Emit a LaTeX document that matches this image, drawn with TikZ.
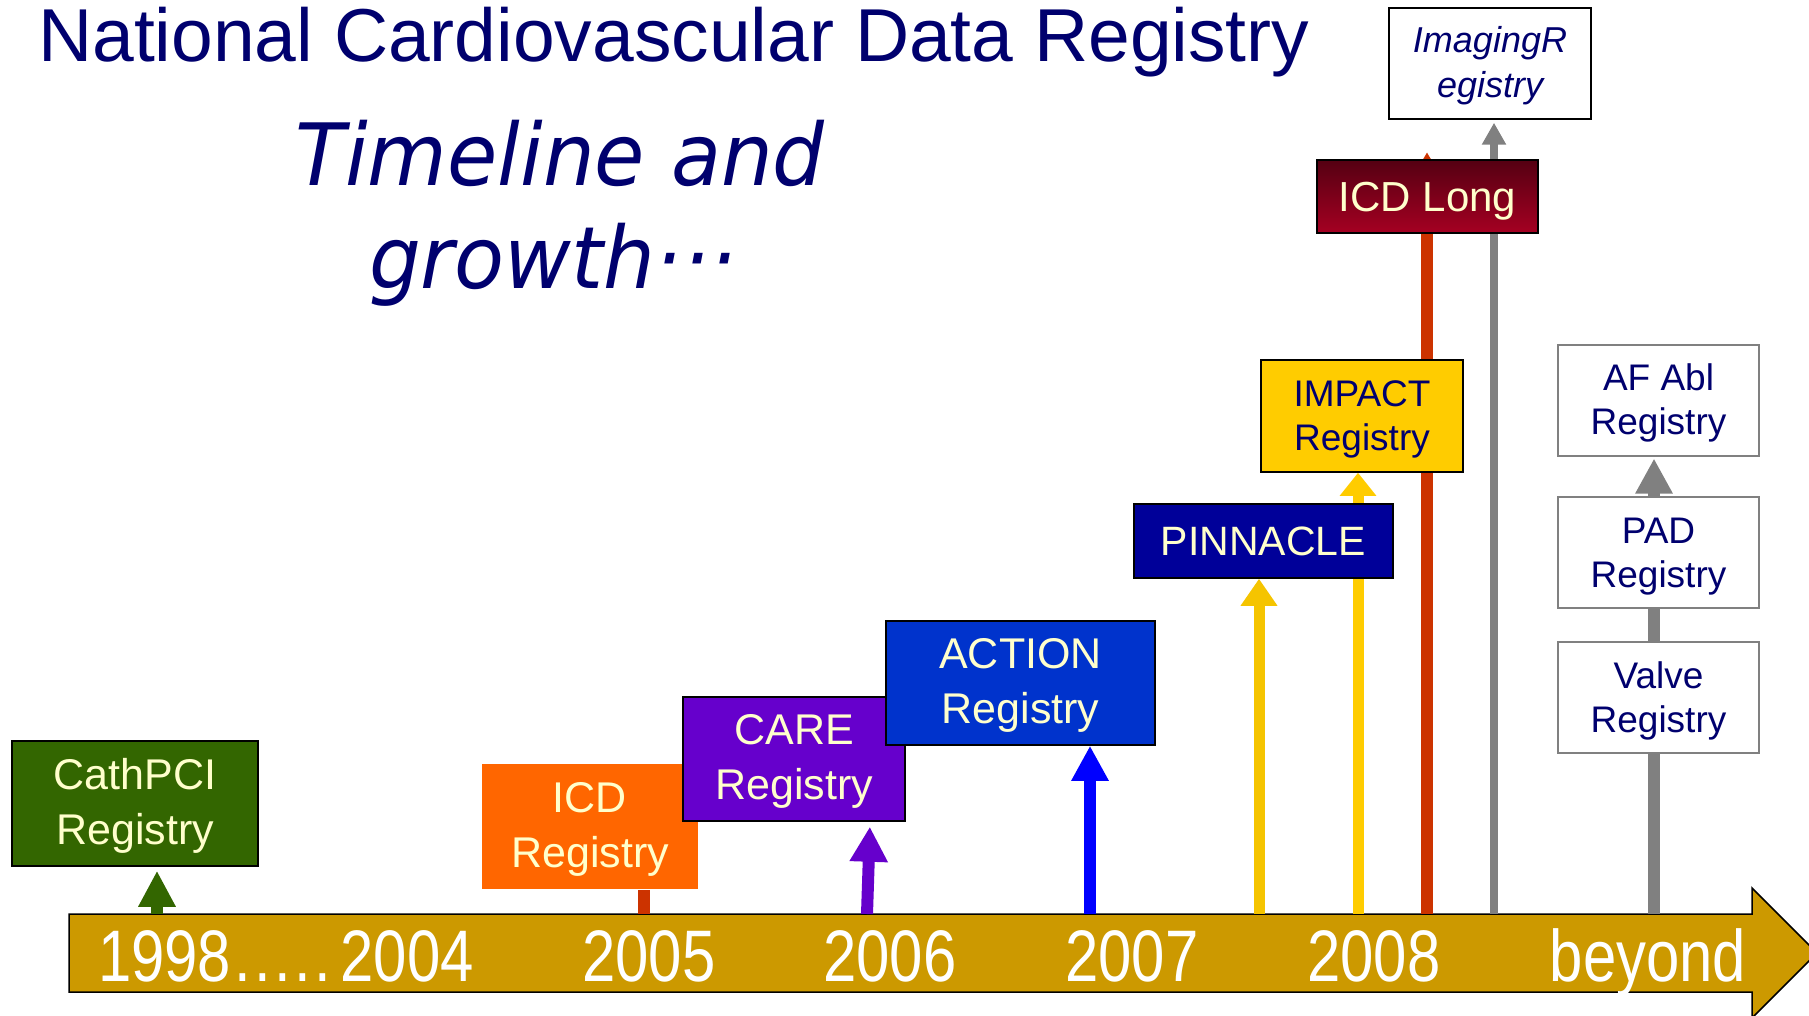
\documentclass[tikz,border=0pt]{standalone}
\usepackage{fontspec}
\setmainfont{Liberation Sans}
\newfontfamily\verd{DejaVu Sans}
\usetikzlibrary{arrows.meta}
\definecolor{navy}{HTML}{00006E}
\definecolor{lyel}{HTML}{FFFFCC}
\definecolor{gold}{HTML}{CC9900}
\definecolor{cgreen}{HTML}{336600}
\definecolor{corange}{HTML}{FF6600}
\definecolor{cpurple}{HTML}{6600CC}
\definecolor{cblue}{HTML}{0033CC}
\definecolor{cnavy}{HTML}{000099}
\definecolor{cyellow}{HTML}{FFCC00}
\definecolor{cyellowb}{HTML}{F5C400}
\definecolor{cred}{HTML}{CC3300}
\definecolor{cgray}{HTML}{808080}
\definecolor{maroonA}{HTML}{550012}
\definecolor{maroonB}{HTML}{A50022}
\pgfdeclarelayer{bg}
\pgfsetlayers{bg,main}
\newcommand\fs[2]{\fontsize{#1}{#2}\selectfont}
\newcommand\twol[2][0pt]{\raisebox{-#1}[\height][\depth]{\begin{tabular}{@{}c@{}}#2\end{tabular}}}
\begin{document}
\begin{tikzpicture}[x=1pt,y=-1pt,
  regbox/.style={draw=black,line width=1.5pt,inner sep=0pt,text=lyel,font={\fs{43}{55}}},
  wbox/.style={draw=cgray,line width=2pt,fill=white,inner sep=0pt,text=navy,font={\fs{37}{44}},minimum width=201pt,minimum height=111pt},
  year/.style={anchor=base,inner sep=0pt,text=white,font={\fs{73}{80}}},
  stem/.style={line width=12pt},
]
\useasboundingbox (0,0) rectangle (1809,1016);

% titles
\node[anchor=base west,inner sep=0pt,text=navy,font={\fs{75}{80}}] (title) at (38,62) {National Cardiovascular Data Registry};
\node[anchor=base,inner sep=0pt,text=navy,font={\verd\itshape\fs{86}{100}}] (sub1) at (560,186) {\scalebox{0.95}[1]{Timeline and}};
\node[anchor=base,inner sep=0pt,text=navy,font={\verd\itshape\fs{86}{100}}] (sub2) at (553,288) {\scalebox{0.95}[1]{growth·\kern2pt·\kern2pt·}};

% registry boxes
\node[regbox,fill=cgreen,minimum width=246pt,minimum height=125pt] (cath) at (135,803.5) {\twol[2pt]{CathPCI\\Registry}};
\node[regbox,draw=none,fill=corange,minimum width=216pt,minimum height=125pt] (icd) at (590,826.5) {\twol[2pt]{ICD\\Registry}};
\node[regbox,fill=cpurple,minimum width=222pt,minimum height=124pt] (care) at (794,759) {\twol[1.5pt]{CARE\\Registry}};
\node[regbox,fill=cblue,minimum width=269pt,minimum height=124pt] (action) at (1020.5,683) {\twol[1.5pt]{ACTION\\Registry}};
\node[regbox,fill=cnavy,minimum width=259pt,minimum height=74pt,font={\fs{41}{49}},text depth=0pt] (pinn) at (1263.5,541) {PINNACLE};
\node[regbox,fill=cyellow,text=navy,minimum width=202pt,minimum height=112pt,font={\fs{37}{44}}] (impact) at (1362,416) {\twol[4pt]{IMPACT\\Registry}};
\node[regbox,top color=maroonA,bottom color=maroonB,minimum width=221pt,minimum height=73pt,font={\fs{42}{50}},text depth=0pt] (icdlong) at (1427.5,196.5) {ICD Long};
\node[regbox,fill=white,text=navy,minimum width=202pt,minimum height=111pt,font={\fs{36}{45}\itshape}] (img) at (1490,63.5) {\twol[3pt]{ImagingR\\egistry}};
\node[wbox] (afabl) at (1658.5,400) {\twol[4pt]{AF Abl\\Registry}};
\node[wbox] (pad) at (1658.5,552.5) {\twol[4pt]{PAD\\Registry}};
\node[wbox] (valve) at (1658.5,697.5) {\twol[4pt]{Valve\\Registry}};

\begin{pgfonlayer}{bg}
  % timeline arrow
  \draw[fill=gold,draw=black,line width=1.5pt] (69,914) -- (1752,914) -- (1752,888) -- (1817,953) -- (1752,1018) -- (1752,992) -- (69,992) -- cycle;
  \coordinate (t1) at (157,914);
  \coordinate (t2) at (644,914);
  \coordinate (t3) at (867,914);
  \coordinate (t4) at (1090,914);
  \coordinate (t5) at (1259,914);
  \coordinate (t6) at (1358,914);
  \coordinate (t7) at (1427,914);
  \coordinate (t8) at (1494,914);
  \coordinate (t9) at (1654,914);
  \draw[cgreen,line width=11.5pt,-{Triangle[width=35pt,length=36pt]},shorten >=4pt] (t1) -- (t1 |- cath.south);
  \draw[cred,stem] (t2) -- (t2 |- icd.south);
  \draw[cpurple,stem,-{Triangle[width=36pt,length=35pt]},shorten >=5pt] (t3) -- ([xshift=3pt]t3 |- care.south);
  \draw[blue,stem,-{Triangle[width=35pt,length=35pt]}] (t4) -- (t4 |- action.south);
  \draw[cyellowb,line width=11pt,-{Triangle[width=35pt,length=27pt]}] (t5) -- (t5 |- pinn.south);
  \draw[cyellow,line width=11pt,-{Triangle[width=35pt,length=23pt]}] (t6) -- (t6 |- impact.south);
  \draw[cred,stem,-{Triangle[width=24pt,length=22pt]}] (t7) -- ([yshift=7pt]t7 |- icdlong.north);
  \draw[cgray,line width=8pt,-{Triangle[width=23pt,length=22pt]},shorten >=3pt] (t8) -- (t8 |- img.south);
  \draw[cgray,stem,-{Triangle[width=35pt,length=35pt]},shorten >=2pt] (t9) -- (t9 |- afabl.south);
\end{pgfonlayer}

% year labels
\node[year] (y1) at (286,981) {\scalebox{0.82}[1]{1998\kern4pt.\kern4pt.\kern4pt.\kern4pt.\kern4pt.\kern12pt2004}};
\node[year] (y2) at (649,981) {\scalebox{0.82}[1]{2005}};
\node[year] (y3) at (890,981) {\scalebox{0.82}[1]{2006}};
\node[year] (y4) at (1132,981) {\scalebox{0.82}[1]{2007}};
\node[year] (y5) at (1374,981) {\scalebox{0.82}[1]{2008}};
\node[year] (y6) at (1648,981) {\scalebox{0.82}[1]{beyond}};
\end{tikzpicture}
\end{document}
